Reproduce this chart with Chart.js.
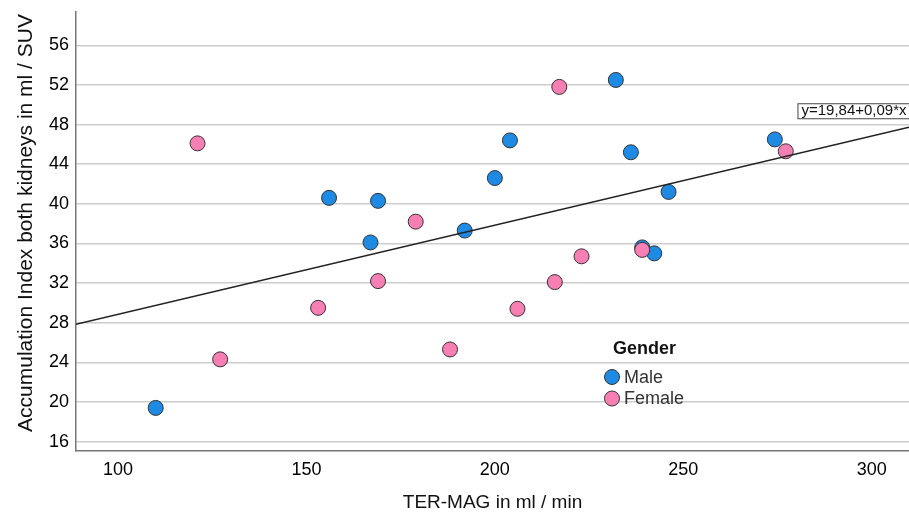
<!DOCTYPE html>
<html>
<head>
<meta charset="utf-8">
<script src="https://cdn.jsdelivr.net/npm/chart.js@4/dist/chart.umd.min.js"></script>
<style>
  body { margin: 0; background: #fff; }
  #wrap { width: 909px; height: 516px; }
</style>
</head>
<body>
<div id="wrap"><canvas id="scatterChart"></canvas></div>
<script>
// Data
const maleX = [110.0, 156.0, 169.0, 167.0, 192.0, 200.0, 204.0, 232.1, 236.1, 246.1, 239.1, 242.3, 274.3];
const maleY = [19.4, 40.6, 40.3, 36.1, 37.3, 42.6, 46.4, 52.5, 45.2, 41.2, 35.6, 35.0, 46.5];
const femaleX = [121.1, 127.1, 153.1, 169.0, 179.0, 188.1, 206.0, 215.9, 223.0, 217.1, 239.1, 277.2];
const femaleY = [46.1, 24.3, 29.5, 32.2, 38.2, 25.3, 29.4, 32.1, 34.7, 51.8, 35.35, 45.3];
const fitLineX = [88.85, 309.9];
const fitLineY = [27.84, 47.73];
const fitLabel = "y=19,84+0,09*x";
const legendTitle = "Gender";
const seriesNames = ["Male", "Female"];
const xTitle = "TER-MAG in ml / min";
const yTitle = "Accumulation Index both kidneys in ml / SUV";
const xTicks = [100, 150, 200, 250, 300];
const yTicks = [16, 20, 24, 28, 32, 36, 40, 44, 48, 52, 56];
const yGrid = [16, 18, 20, 22, 24, 26, 28, 30, 32, 34, 36, 38, 40, 42, 44, 46, 48, 50, 52, 54, 56, 58];

const blue = "#1e8ae3";
const pink = "#f77fb4";
const toPoints = (xs, ys) => xs.map((x, i) => ({ x: x, y: ys[i] }));

Chart.defaults.font.family = "'Liberation Sans', Arial, sans-serif";
Chart.defaults.color = "#111";

// y title (sits a bit above the axis centre), fit line label, gender legend
const annotations = {
  id: "annotations",
  afterDraw(chart) {
    const { ctx, scales } = chart;
    ctx.save();
    ctx.translate(26, 223);
    ctx.rotate(-Math.PI / 2);
    ctx.font = "21px 'Liberation Sans', Arial";
    ctx.fillStyle = "#111";
    ctx.textAlign = "center";
    ctx.textBaseline = "middle";
    ctx.fillText(yTitle, 0, 0);
    ctx.restore();
  },
  afterDatasetsDraw(chart) {
    const { ctx, scales } = chart;
    ctx.save();
    // fit line label
    const bx = scales.x.getPixelForValue(280.3);
    const by = scales.y.getPixelForValue(50.15);
    ctx.font = "15px 'Liberation Sans', Arial";
    const tw = ctx.measureText(fitLabel).width;
    ctx.fillStyle = "#fff";
    ctx.fillRect(bx, by, tw + 8, 15);
    ctx.strokeStyle = "#444";
    ctx.lineWidth = 1;
    ctx.strokeRect(bx + 0.5, by + 0.5, tw + 8, 15);
    ctx.fillStyle = "#111";
    ctx.textBaseline = "middle";
    ctx.fillText(fitLabel, bx + 4, by + 8);

    // legend
    ctx.font = "bold 18px 'Liberation Sans', Arial";
    ctx.fillStyle = "#111";
    ctx.fillText(legendTitle, 613, 349);
    const colors = [blue, pink];
    seriesNames.forEach((name, i) => {
      const cy = 377 + i * 21.5;
      ctx.beginPath();
      ctx.arc(612, cy, 7.5, 0, Math.PI * 2);
      ctx.fillStyle = colors[i];
      ctx.fill();
      ctx.strokeStyle = "#333";
      ctx.stroke();
      ctx.font = "18px 'Liberation Sans', Arial";
      ctx.fillStyle = "#333";
      ctx.fillText(name, 624, cy + 1);
    });
    ctx.restore();
  },
};

new Chart(document.getElementById("scatterChart").getContext("2d"), {
  type: "scatter",
  data: {
    datasets: [
      {
        type: "line",
        label: "Fit",
        data: toPoints(fitLineX, fitLineY),
        borderColor: "#222",
        borderWidth: 1.5,
        pointRadius: 0,
        order: 0,
      },
      {
        label: seriesNames[1],
        data: toPoints(femaleX, femaleY),
        backgroundColor: pink,
        borderColor: "#333",
        borderWidth: 1,
        pointRadius: 7.5,
        order: 1,
      },
      {
        label: seriesNames[0],
        data: toPoints(maleX, maleY),
        backgroundColor: blue,
        borderColor: "#333",
        borderWidth: 1,
        pointRadius: 7.5,
        order: 2,
      },
    ],
  },
  options: {
    responsive: true,
    maintainAspectRatio: false,
    animation: false,
    layout: { autoPadding: false, padding: { top: 12, right: 0, left: 0, bottom: 0 } },
    plugins: {
      legend: { display: false },
      tooltip: { enabled: false },
    },
    scales: {
      x: {
        type: "linear",
        min: 88.85,
        max: 309.9,
        afterBuildTicks: (scale) => { scale.ticks = xTicks.map((v) => ({ value: v })); },
        afterFit: (scale) => {
          scale.height = 65;
          scale.paddingLeft = 0;
          scale.paddingRight = 0;
        },
        grid: { display: false, drawTicks: false },
        border: { color: "#777", width: 1.5 },
        ticks: { padding: 8, font: { size: 18 }, color: "#000" },
        title: {
          display: true,
          text: xTitle,
          font: { size: 19 },
          color: "#111",
          padding: { top: 0, bottom: 2 },
        },
      },
      y: {
        min: 15.05,
        max: 59.36,
        afterBuildTicks: (scale) => { scale.ticks = yGrid.map((v) => ({ value: v })); },
        afterFit: (scale) => {
          scale.width = 76;
          scale.paddingTop = 0;
          scale.paddingBottom = 0;
        },
        grid: { color: "#cdcdcd", lineWidth: 1.5, drawTicks: false },
        border: { color: "#777", width: 1.5 },
        ticks: {
          padding: 7,
          font: { size: 18 },
          color: "#000",
          callback: (v) => (yTicks.includes(v) ? String(v) : ""),
        },
      },
    },
  },
  plugins: [annotations],
});
</script>
</body>
</html>
